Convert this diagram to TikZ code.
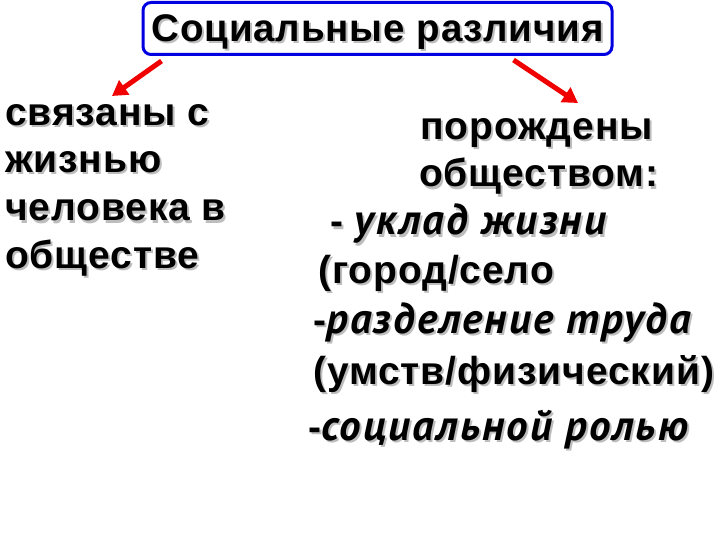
\documentclass[tikz,border=0pt]{standalone}
\usepackage{fontspec}
\setmainfont{Liberation Sans}[LetterSpace=2.3]
\newfontfamily\cursiveFont{PT Sans}[LetterSpace=5]
\usepackage{tikz}
\usetikzlibrary{
    shapes, arrows.meta, positioning, calc
}
\definecolor{frameBlue}{HTML}{0000E0}
\definecolor{arrowRed}{HTML}{F00000}
\definecolor{shadowGray}{HTML}{BDBDBD}
% text with a soft gray shadow
\newcommand{\Shd}[1]{\rlap{\hspace{2pt}\raisebox{-2pt}{\textcolor{shadowGray}{#1}}}#1}
\newcommand{\Cur}[1]{{\cursiveFont\itshape\fontsize{43}{47}\selectfont #1}}
\tikzset{
    % Common
    titleBox/.style={rectangle, rounded corners=8pt, draw=frameBlue, line width=3pt, fill=white,
        minimum width=469pt, minimum height=52pt, inner sep=0pt},
    bigText/.style={font=\fontsize{39}{47}\selectfont\bfseries, inner sep=0pt, anchor=base west},
    arrowDown/.style={-{Triangle[width=17pt,length=15pt]}, line width=5pt, draw=arrowRed}
}
\begin{document}
\begin{tikzpicture}[x=1pt, y=1pt]
    \useasboundingbox (0,0) rectangle (720,-540);
    % heading
    \node[titleBox] (title) at (377.5,-28.5) {};
    \node[font=\fontsize{38.5}{48}\selectfont\bfseries, inner sep=0pt, anchor=base] (titleTxt) at (377.5,-42) {\Shd{Социальные различия}};
    \coordinate (leftTip) at (112,-96);
    \coordinate (rightTip) at (578,-103);
    \draw[arrowDown] ([xshift=20pt,yshift=-5pt]title.south west) -- (leftTip);
    \draw[arrowDown] ([xshift=372pt,yshift=-4pt]title.south west) -- (rightTip);
    % left column
    \node[bigText] (l1) at (5,-126) {\Shd{связаны с}};
    \node[bigText] (l2) at (5,-173) {\Shd{жизнью}};
    \node[bigText] (l3) at (5,-221) {\Shd{человека в}};
    \node[bigText] (l4) at (5,-268) {\Shd{обществе}};
    % right column
    \node[bigText] (r1) at (420,-140) {\Shd{порождены}};
    \node[bigText] (r2) at (419,-187) {\Shd{обществом:}};
    \node[bigText] (r3) at (330,-235) {\Shd{- \Cur{уклад жизни}}};
    \node[bigText] (r4) at (318,-283) {\Shd{(город/село}};
    \node[bigText] (r5) at (313,-333) {\Shd{-\Cur{разделение труда}}};
    \node[bigText] (r6) at (313,-384) {\Shd{(умств/физический)}};
    \node[bigText] (r7) at (308,-440) {\Shd{-\Cur{социальной ролью}}};
\end{tikzpicture}
\end{document}
